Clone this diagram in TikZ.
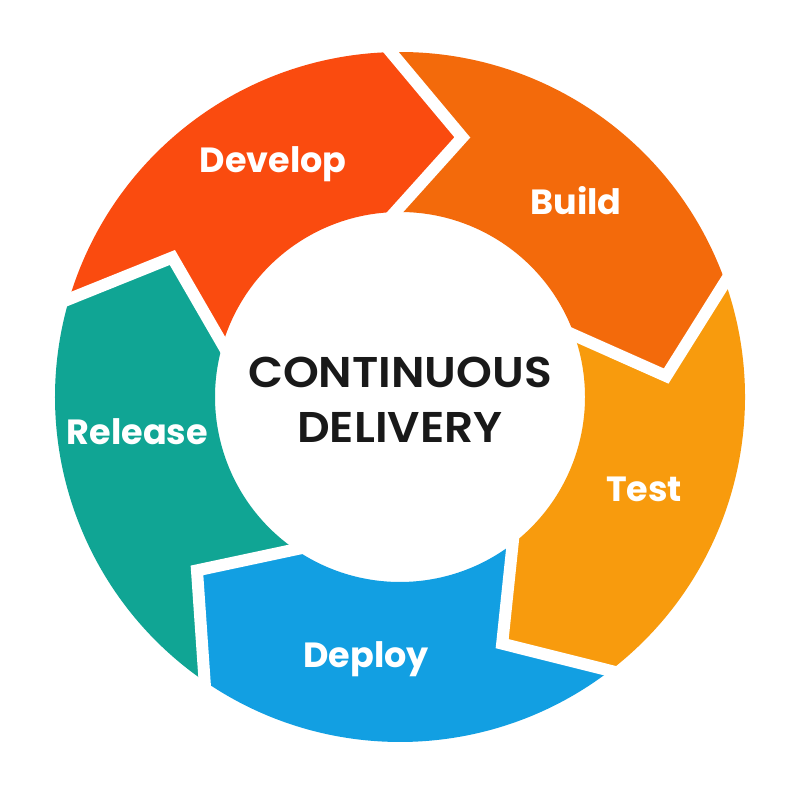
\documentclass[tikz,border=0pt]{standalone}
\usepackage{fontspec}
\usetikzlibrary{calc}
\setmainfont{Poppins}
\newfontfamily\ctrfont{Poppins}[UprightFont=* SemiBold]
\definecolor{cdev}{HTML}{FA4B0F}
\definecolor{cbld}{HTML}{F36A0B}
\definecolor{ctst}{HTML}{F89B0D}
\definecolor{cdep}{HTML}{129FE2}
\definecolor{crel}{HTML}{10A594}
\tikzset{
  lbl/.style={text=white, font=\fontsize{35}{40}\selectfont\bfseries, anchor=base, inner sep=0pt},
  ctr/.style={text=black!90, font=\fontsize{43}{48}\selectfont\ctrfont, anchor=base, inner sep=0pt, xscale=1.06},
  gap/.style={white, line width=12, line join=miter, line cap=butt}
}
\begin{document}
\begin{tikzpicture}[x=1pt,y=1pt]
\useasboundingbox (0,0) rectangle (800,800);
\fill[white] (0,0) rectangle (800,800);
\begin{scope}[shift={(400,403)}]
\def\Ro{345}
\def\Ri{185}
\def\Rm{267}
\foreach \a/\col in {163.5/cdev, 91.5/cbld, 19.5/ctst, -52.5/cdep, -124.5/crel}{
  \pgfmathsetmacro{\b}{\a-72}
  \pgfmathsetmacro{\bt}{\a-87}
  \pgfmathsetmacro{\at}{\a-15}
  \fill[\col] (\a:\Ro) arc[start angle=\a, end angle=\b, radius=\Ro]
     -- (\bt:\Rm) -- (\b:\Ri) arc[start angle=\b, end angle=\a, radius=\Ri]
     -- (\at:\Rm) -- cycle;
}
\foreach \a in {163.5, 91.5, 19.5, -52.5, -124.5}{
  \pgfmathsetmacro{\at}{\a-15}
  \coordinate (tip) at (\at:\Rm);
  \coordinate (out) at (\a:\Ro);
  \coordinate (inn) at (\a:\Ri);
  \draw[gap] ($(tip)!1.3!(out)$) -- (tip) -- ($(tip)!1.4!(inn)$);
}
\end{scope}
\node[lbl] (develop) at (273,627) {Develop};
\node[lbl] (build) at (576,585) {Build};
\node[lbl] (test) at (644,298) {Test};
\node[lbl] (deploy) at (366,132) {Deploy};
\node[lbl] (release) at (137.5,355) {Release};
\node[ctr] (cont) at (400,412) {CONTINUOUS};
\node[ctr] (deliv) at (400,357) {DELIVERY};
\end{tikzpicture}
\end{document}
